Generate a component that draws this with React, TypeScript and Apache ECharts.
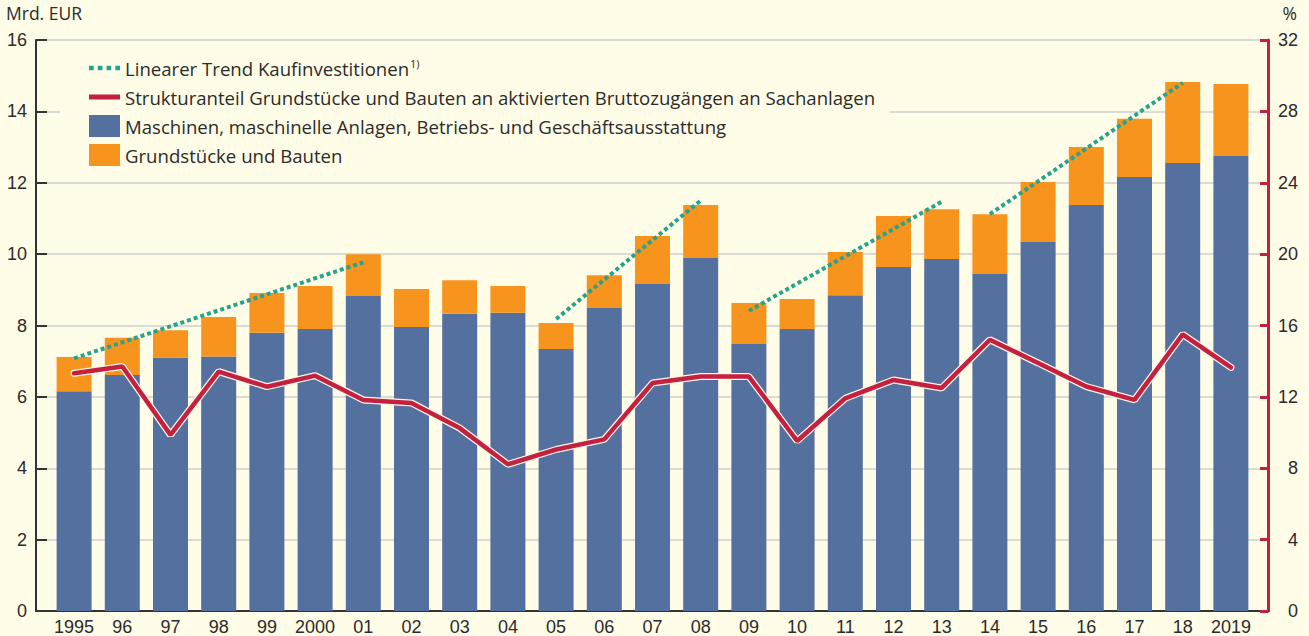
import React, { useEffect, useRef } from "react";
import * as echarts from "echarts";

const years = ["1995", "96", "97", "98", "99", "2000", "01", "02", "03", "04", "05", "06", "07", "08", "09", "10", "11", "12", "13", "14", "15", "16", "17", "18", "2019"];
const machines = [6.16, 6.61, 7.10, 7.13, 7.80, 7.90, 8.83, 7.96, 8.33, 8.36, 7.34, 8.49, 9.16, 9.89, 7.48, 7.90, 8.85, 9.64, 9.86, 9.44, 10.34, 11.38, 12.16, 12.55, 12.75];
const buildings = [0.96, 1.05, 0.77, 1.11, 1.11, 1.21, 1.17, 1.06, 0.94, 0.75, 0.73, 0.92, 1.35, 1.49, 1.15, 0.84, 1.21, 1.43, 1.40, 1.68, 1.68, 1.62, 1.63, 2.27, 2.02];
const sharePct = [13.32, 13.7, 9.87, 13.42, 12.57, 13.19, 11.83, 11.66, 10.25, 8.22, 9.05, 9.62, 12.78, 13.14, 13.14, 9.53, 11.92, 12.95, 12.5, 15.2, 13.9, 12.58, 11.83, 15.5, 13.65];
const trend1 = [[0, 7.08], [6, 9.77]];
const trend2 = [[10, 8.18], [13, 11.5]];
const trend3 = [[14, 8.41], [18, 11.47]];
const trend4 = [[19, 11.12], [23, 14.8]];
const trends = [trend1, trend2, trend3, trend4];

const leftTicks = { min: 0, max: 16, interval: 2 };
const rightTicks = { min: 0, max: 32, interval: 4 };

const NAME_TREND = "Linearer Trend Kaufinvestitionen";
const NAME_SHARE = "Strukturanteil Grundstücke und Bauten an aktivierten Bruttozugängen an Sachanlagen";
const NAME_MACH = "Maschinen, maschinelle Anlagen, Betriebs- und Geschäftsausstattung";
const NAME_BUILD = "Grundstücke und Bauten";

const BG = "#fffde7";
const BLUE = "#54709e";
const ORANGE = "#f7941d";
const RED = "#c4213f";
const TEAL = "#26a38f";
const TXT = "#2b2b2b";
const AXFONT = "'Liberation Sans Narrow', 'Liberation Sans', Arial, sans-serif";
const LGFONT = "'Open Sans', 'Liberation Sans', sans-serif";

const DOTS_ICON = "path://M0,0h4v4h-4zM7.5,0h4v4h-4zM15,0h4v4h-4zM22.5,0h4v4h-4z";

export default function App() {
  const ref = useRef<HTMLDivElement>(null);
  useEffect(() => {
    document.body.style.margin = "0";
    document.body.style.background = BG;
    const chart = echarts.init(ref.current!, undefined, { renderer: "svg" });
    const trendSeries = trends.map((t) => ({
      name: NAME_TREND,
      type: "line",
      xAxisIndex: 1,
      yAxisIndex: 2,
      data: t,
      symbol: "none",
      z: 5,
      lineStyle: { color: TEAL, width: 4, type: [4, 3] },
      itemStyle: { color: TEAL },
    }));
    const legendText = {
      fontSize: 18.6,
      color: TXT,
      fontFamily: LGFONT,
      lineHeight: 22,
      rich: { sup: { fontSize: 11, color: TXT, padding: [0, 0, 10, 1], fontFamily: LGFONT } },
    };
    chart.setOption({
      animation: false,
      backgroundColor: BG,
      textStyle: { fontFamily: AXFONT },
      grid: [
        { left: 36, right: 41, top: 40, bottom: 25 },
        { left: 50, right: 54, top: 40, bottom: 25 },
      ],
      legend: [
        {
          data: [
            { name: NAME_TREND, icon: DOTS_ICON },
            { name: NAME_SHARE, icon: "rect" },
          ],
          orient: "vertical",
          left: 89,
          top: 57,
          padding: 0,
          itemGap: 7,
          itemWidth: 31,
          itemHeight: 5,
          selectedMode: false,
          formatter: (name: string) => (name === NAME_TREND ? name + "{sup|1)}" : name),
          textStyle: legendText,
        },
        {
          data: [NAME_MACH, NAME_BUILD].map((n) => ({ name: n, icon: "rect" })),
          orient: "vertical",
          left: 89,
          top: 115,
          padding: 0,
          itemGap: 7,
          itemWidth: 31,
          itemHeight: 22,
          selectedMode: false,
          textStyle: legendText,
        },
      ],
      xAxis: [
        {
          type: "category",
          gridIndex: 0,
          data: years,
          axisLine: { show: true, lineStyle: { color: "#333", width: 2 } },
          axisTick: { show: false },
          axisLabel: { show: false },
        },
        {
          type: "category",
          gridIndex: 1,
          data: years,
          axisLine: { show: false },
          axisTick: { show: false },
          axisLabel: { fontSize: 18, color: TXT, margin: 7, interval: 0, fontFamily: AXFONT },
        },
      ],
      yAxis: [
        {
          type: "value",
          gridIndex: 0,
          position: "left",
          ...leftTicks,
          axisLine: { show: true, lineStyle: { color: "#333", width: 2 } },
          axisTick: { show: true, inside: true, length: 11, lineStyle: { color: "#333", width: 2 } },
          splitLine: { show: true, lineStyle: { color: "#cfcfcf", width: 1.5 } },
          axisLabel: { fontSize: 18, color: TXT, margin: 9, fontFamily: AXFONT },
        },
        {
          type: "value",
          gridIndex: 0,
          position: "right",
          ...rightTicks,
          axisLine: { show: true, lineStyle: { color: RED, width: 3 } },
          axisTick: { show: true, inside: true, length: 8, lineStyle: { color: RED, width: 3 } },
          splitLine: { show: false },
          axisLabel: { fontSize: 18, color: TXT, margin: 30, align: "right", fontFamily: AXFONT },
        },
        { type: "value", gridIndex: 1, ...leftTicks, show: false, splitLine: { show: false } },
        { type: "value", gridIndex: 1, ...rightTicks, show: false, splitLine: { show: false } },
      ],
      graphic: [
        { type: "rect", z: 1, shape: { x: 60, y: 46, width: 830, height: 126 }, style: { fill: BG } },
        { type: "text", left: 6, top: 4, style: { text: "Mrd. EUR", fontSize: 17.5, fill: TXT, fontFamily: LGFONT } },
        { type: "text", right: 12, top: 4, style: { text: "%", fontSize: 17.5, fill: TXT, fontFamily: LGFONT } },
      ],
      series: [
        {
          name: NAME_MACH,
          type: "bar",
          stack: "inv",
          xAxisIndex: 1,
          yAxisIndex: 2,
          data: machines,
          barWidth: 35,
          itemStyle: { color: BLUE },
        },
        {
          name: NAME_BUILD,
          type: "bar",
          stack: "inv",
          xAxisIndex: 1,
          yAxisIndex: 2,
          data: buildings,
          barWidth: 35,
          itemStyle: { color: ORANGE },
        },
        {
          name: "outline",
          type: "line",
          xAxisIndex: 1,
          yAxisIndex: 3,
          data: sharePct,
          symbol: "none",
          z: 6,
          lineStyle: { color: "#fff6ea", width: 7, cap: "round" },
        },
        {
          name: NAME_SHARE,
          type: "line",
          xAxisIndex: 1,
          yAxisIndex: 3,
          data: sharePct,
          symbol: "none",
          z: 7,
          lineStyle: { color: RED, width: 4.5, cap: "round" },
          itemStyle: { color: RED },
        },
        ...trendSeries,
      ],
    });
    return () => chart.dispose();
  }, []);
  return <div ref={ref} style={{ width: 1309, height: 636 }} />;
}
